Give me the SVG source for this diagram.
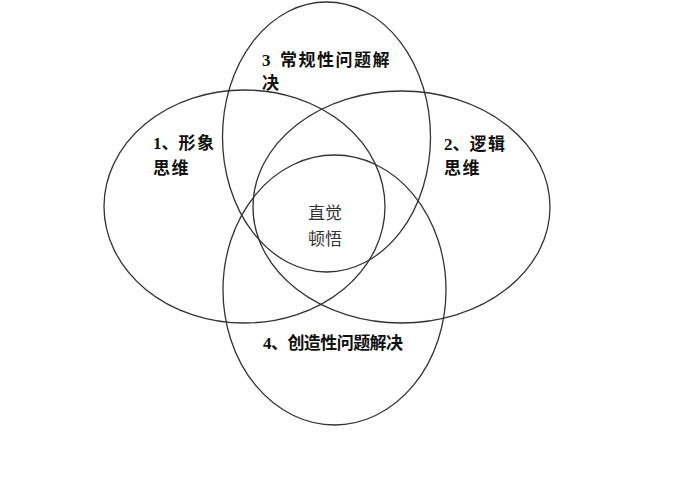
<svg xmlns="http://www.w3.org/2000/svg" width="690" height="500" viewBox="0 0 690 500">
  <style>
    .set { fill: none; stroke: #333333; stroke-width: 1.3; }
    .lbl { font-family: "Liberation Serif", "Noto Sans CJK SC", serif; font-weight: 700; font-size: 17px; fill: #111; }
    .cjk { letter-spacing: 1.5px; }
    .core { font-family: "Noto Sans CJK SC", sans-serif; font-size: 17px; fill: #333; }
  </style>
  <rect width="690" height="500" fill="#ffffff"/>
  <g id="set-1-image-thinking">
    <ellipse class="set" cx="244.5" cy="206.5" rx="140.5" ry="116.5"/>
    <text class="lbl" x="153" y="149">1、<tspan class="cjk">形象</tspan></text>
    <text class="lbl cjk" x="153" y="174">思维</text>
  </g>
  <g id="set-2-logical-thinking">
    <ellipse class="set" cx="401.5" cy="207" rx="148.5" ry="116"/>
    <text class="lbl" x="444" y="150">2、<tspan class="cjk">逻辑</tspan></text>
    <text class="lbl cjk" x="444" y="174">思维</text>
  </g>
  <g id="set-3-routine-problem-solving">
    <ellipse class="set" cx="326.5" cy="137" rx="104" ry="135"/>
    <text class="lbl" x="262" y="66">3 <tspan class="cjk" x="280">常规性问题解</tspan></text>
    <text class="lbl cjk" x="262" y="89">决</text>
  </g>
  <g id="set-4-creative-problem-solving">
    <ellipse class="set" cx="334.5" cy="290" rx="111.5" ry="135"/>
    <text class="lbl" x="263" y="349" textLength="140" lengthAdjust="spacing">4、创造性问题解决</text>
  </g>
  <g id="core-intuition">
    <text class="core" x="308" y="219">直觉</text>
    <text class="core" x="308" y="245">顿悟</text>
  </g>
  <g id="connectors"></g>
</svg>
